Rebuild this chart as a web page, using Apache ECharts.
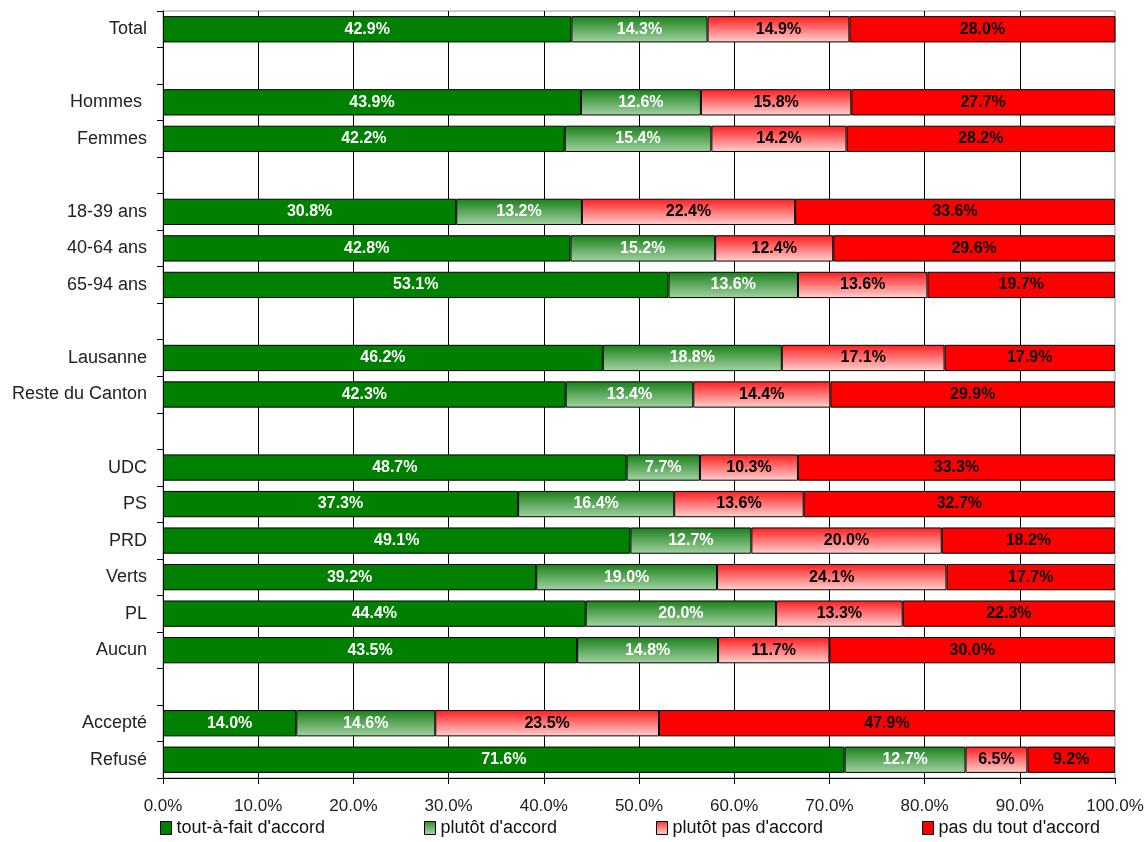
<!DOCTYPE html>
<html>
<head>
<meta charset="utf-8">
<script src="https://cdn.jsdelivr.net/npm/echarts@6/dist/echarts.min.js"></script>
<style>
  html, body { margin: 0; padding: 0; background: #fff; }
  #chart { width: 1146px; height: 842px; }
</style>
</head>
<body>
<div id="chart"></div>
<script>
// categories, '' = empty separator rows
var categories = ['Total', '', 'Hommes ', 'Femmes', '', '18-39 ans', '40-64 ans', '65-94 ans', '',
    'Lausanne', 'Reste du Canton', '', 'UDC', 'PS', 'PRD', 'Verts', 'PL', 'Aucun', '', 'Accepté', 'Refusé'];
var seriesNames = ["tout-à-fait d'accord", "plutôt d'accord", "plutôt pas d'accord", "pas du tout d'accord"];
var toutAFait = [42.9, null, 43.9, 42.2, null, 30.8, 42.8, 53.1, null, 46.2, 42.3, null, 48.7, 37.3, 49.1, 39.2, 44.4, 43.5, null, 14.0, 71.6];
var plutotAccord = [14.3, null, 12.6, 15.4, null, 13.2, 15.2, 13.6, null, 18.8, 13.4, null, 7.7, 16.4, 12.7, 19.0, 20.0, 14.8, null, 14.6, 12.7];
var plutotPas = [14.9, null, 15.8, 14.2, null, 22.4, 12.4, 13.6, null, 17.1, 14.4, null, 10.3, 13.6, 20.0, 24.1, 13.3, 11.7, null, 23.5, 6.5];
var pasDuTout = [28.0, null, 27.7, 28.2, null, 33.6, 29.6, 19.7, null, 17.9, 29.9, null, 33.3, 32.7, 18.2, 17.7, 22.3, 30.0, null, 47.9, 9.2];

var font = "'Liberation Sans', Arial, sans-serif";

function grad(top, bottom) {
    return new echarts.graphic.LinearGradient(0, 0, 0, 1, [
        { offset: 0, color: top },
        { offset: 1, color: bottom }
    ]);
}

var fills = ['#008000', grad('#1a801a', '#a3d3a3'), grad('#ff1e1e', '#ffd2d2'), '#ff0000'];
var legendFills = ['#008000', grad('#2a8a2a', '#b0dab0'), grad('#ff3030', '#ffd8d8'), '#ff0000'];
var labelColors = ['#ffffff', '#ffffff', '#000000', '#000000'];
var values = [toutAFait, plutotAccord, plutotPas, pasDuTout];

var series = seriesNames.map(function (name, i) {
    return {
        name: name,
        type: 'bar',
        stack: 'total',
        barCategoryGap: '28%',
        itemStyle: { color: fills[i], borderColor: '#000', borderWidth: 1 },
        label: {
            show: true,
            position: 'inside',
            color: labelColors[i],
            fontFamily: font,
            fontWeight: 'bold',
            fontSize: 16,
            formatter: function (p) { return p.value.toFixed(1) + '%'; }
        },
        emphasis: { disabled: true },
        data: values[i]
    };
});

var myChart = echarts.init(document.getElementById('chart'));
var option = {
    animation: false,
    grid: {
        left: 163, right: 31, top: 11, bottom: 64,
        outerBoundsMode: 'none',
        show: true, borderColor: '#9a9a9a', borderWidth: 1, backgroundColor: '#fff'
    },
    legend: {
        bottom: 0,
        left: 155,
        width: 1000,
        itemWidth: 11,
        itemHeight: 13,
        itemGap: 99,
        icon: 'rect',
        textStyle: { fontFamily: font, fontSize: 18, color: '#111' },
        data: seriesNames.map(function (n, i) {
            return { name: n, itemStyle: { color: legendFills[i], borderColor: '#000', borderWidth: 1 } };
        })
    },
    xAxis: {
        type: 'value',
        min: 0,
        max: 100,
        interval: 10,
        axisLine: { show: true, lineStyle: { color: '#000', width: 1 } },
        axisTick: { show: true, length: 6, lineStyle: { color: '#000' } },
        axisLabel: {
            margin: 20,
            fontFamily: font,
            fontSize: 17,
            color: '#222',
            formatter: function (v) { return v.toFixed(1) + '%'; }
        },
        splitLine: { show: true, showMaxLine: false, lineStyle: { color: '#000', width: 1 } }
    },
    yAxis: {
        type: 'category',
        inverse: true,
        data: categories,
        axisLine: { show: true, lineStyle: { color: '#000', width: 1 } },
        axisTick: { show: true, length: 6, lineStyle: { color: '#000' } },
        axisLabel: {
            margin: 16,
            fontFamily: font,
            fontSize: 18,
            color: '#222'
        }
    },
    series: series
};
myChart.setOption(option);
</script>
</body>
</html>
